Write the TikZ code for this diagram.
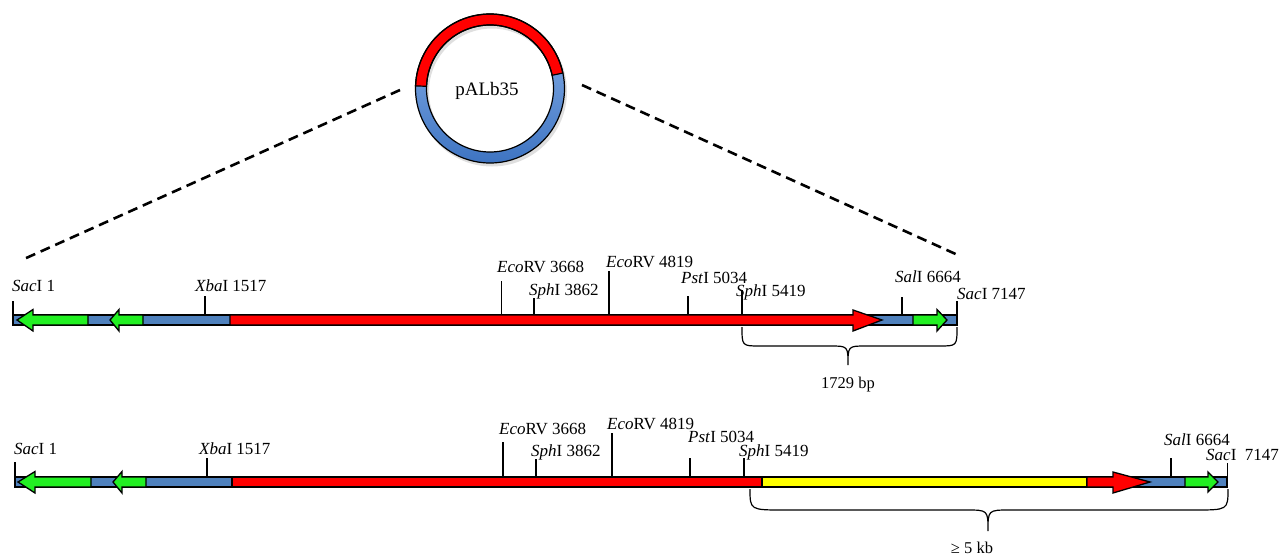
\documentclass[tikz,border=0pt]{standalone}
\usepackage{fontspec}
\setmainfont{Liberation Serif}
\usetikzlibrary{calc}
\begin{document}
\begin{tikzpicture}[x=1pt,y=-1pt,line join=miter]
\definecolor{barblue}{HTML}{4F81BD}
\definecolor{arrgreen}{HTML}{22F022}
\definecolor{arrred}{HTML}{FF0000}
\definecolor{insyellow}{HTML}{FFFF00}
\definecolor{ringlight}{HTML}{8DB4EA}
\definecolor{ringdark}{HTML}{3E74C2}
\tikzset{
  lbl/.style={anchor=base west,inner sep=0pt,font=\fontsize{17}{20}\selectfont},
  clbl/.style={anchor=base,inner sep=0pt,font=\fontsize{16.5}{20}\selectfont},
  seg/.style={draw=black,line width=1.3pt},
  sitetick/.style={draw=black,line width=1.2pt},
  bracepath/.style={draw=black,line width=1.2pt},
  zoomline/.style={draw=black,line width=2.6pt,dash pattern=on 10pt off 6pt},
}
\useasboundingbox (0,0) rectangle (1283,557);

% ---------- plasmid circle ----------
\coordinate (cc) at (490,88.5);
\coordinate (cs) at (492,91.5);
\fill[black!25,opacity=0.5,even odd rule] (cs) circle[radius=75] (cs) circle[radius=63];
\shade[top color=ringlight,bottom color=ringdark,even odd rule] (cc) circle[radius=74.5] (cc) circle[radius=63.5];
\filldraw[fill=arrred,draw=black,line width=1.2pt] ($(cc)+(182:74.5)$) arc[start angle=182,end angle=348,radius=74.5]
  -- ($(cc)+(348:63.5)$) arc[start angle=348,end angle=182,radius=63.5] -- cycle;
\draw[black,line width=1.2pt] (cc) circle[radius=74.5];
\draw[black,line width=1.2pt] (cc) circle[radius=63.5];
\node[anchor=base,inner sep=0pt,font=\fontsize{19}{22}\selectfont] (plas) at (487,95) {pALb35};

% ---------- zoom lines ----------
\coordinate (zl1) at (400,90);
\coordinate (zl2) at (24,259);
\coordinate (zr1) at (582,85);
\coordinate (zr2) at (960,256);
\draw[zoomline] (zl1) -- (zl2);
\draw[zoomline] (zr1) -- (zr2);

% ---------- top map ----------
\filldraw[seg,fill=barblue] (13,315) rectangle (957,325);
\filldraw[seg,fill=arrred] (230,315) -- (853,315) -- (853,310) -- (882,320) -- (853,331) -- (853,325) -- (230,325) -- cycle;
\filldraw[seg,fill=arrgreen] (17,320) -- (33,309.5) -- (33,315) -- (88,315) -- (88,325) -- (33,325) -- (33,331) -- cycle;
\filldraw[seg,fill=arrgreen] (110,320) -- (119,309.5) -- (119,315) -- (143,315) -- (143,325) -- (119,325) -- (119,331) -- cycle;
\filldraw[seg,fill=arrgreen] (913,315) -- (937,315) -- (937,309.5) -- (947,320) -- (937,331) -- (937,325) -- (913,325) -- cycle;

\draw[sitetick] (13,301) -- (13,315);
\draw[sitetick] (205,296) -- (205,315);
\draw[sitetick] (501.5,281) -- (501.5,315);
\draw[sitetick] (534,298) -- (534,315);
\draw[sitetick] (609,271) -- (609,315);
\draw[sitetick] (688,296) -- (688,315);
\draw[sitetick] (742,290) -- (742,315);
\draw[sitetick] (902,297) -- (902,315);
\draw[sitetick] (957,301) -- (957,315);

\node[lbl] (ta) at (12,291) {\textit{Sac}I 1};
\node[lbl] (tb) at (195,291) {\textit{Xba}I 1517};
\node[lbl] (tc) at (497,272) {\textit{Eco}RV 3668};
\node[lbl] (td) at (529,295) {\textit{Sph}I 3862};
\node[lbl] (te) at (606,267) {\textit{Eco}RV 4819};
\node[lbl] (tf) at (681,283) {\textit{Pst}I 5034};
\node[lbl] (tg) at (736,296) {\textit{Sph}I 5419};
\node[lbl] (th) at (895,282) {\textit{Sal}I 6664};
\node[lbl] (ti) at (957,299) {\textit{Sac}I 7147};

\draw[bracepath] (742,327) .. controls (742,346) .. (760,346) -- (830,346)
  .. controls (848,346) .. (848,365) .. controls (848,346) .. (866,346) -- (939,346)
  .. controls (957,346) .. (957,327);
\node[clbl] (tlen) at (848,388) {1729 bp};

% ---------- bottom map ----------
\filldraw[seg,fill=barblue] (15,477) rectangle (1227,487);
\filldraw[seg,fill=arrred] (232,477) rectangle (762,487);
\filldraw[seg,fill=insyellow] (762,477) rectangle (1087,487);
\filldraw[seg,fill=arrred] (1087,477) -- (1113,477) -- (1113,472) -- (1150,482) -- (1113,493) -- (1113,487) -- (1087,487) -- cycle;
\filldraw[seg,fill=arrgreen] (18,482) -- (35,471.5) -- (35,477) -- (91,477) -- (91,487) -- (35,487) -- (35,493) -- cycle;
\filldraw[seg,fill=arrgreen] (113,482) -- (122,471.5) -- (122,477) -- (146,477) -- (146,487) -- (122,487) -- (122,493) -- cycle;
\filldraw[seg,fill=arrgreen] (1185,477) -- (1208,477) -- (1208,472) -- (1218,482) -- (1208,492) -- (1208,487) -- (1185,487) -- cycle;

\draw[sitetick] (15,462) -- (15,477);
\draw[sitetick] (207,458) -- (207,477);
\draw[sitetick] (503,442) -- (503,477);
\draw[sitetick] (536,459) -- (536,477);
\draw[sitetick] (612,433) -- (612,477);
\draw[sitetick] (690,458) -- (690,477);
\draw[sitetick] (744,458) -- (744,477);
\draw[sitetick] (1171,458) -- (1171,477);
\draw[sitetick] (1227.5,463) -- (1227.5,477);

\node[lbl] (ba) at (14,454) {\textit{Sac}I 1};
\node[lbl] (bb) at (199,454) {\textit{Xba}I 1517};
\node[lbl] (bc) at (499,434) {\textit{Eco}RV 3668};
\node[lbl] (bd) at (531,456) {\textit{Sph}I 3862};
\node[lbl] (be) at (607,429) {\textit{Eco}RV 4819};
\node[lbl] (bf) at (688,442) {\textit{Pst}I 5034};
\node[lbl] (bg) at (739,456) {\textit{Sph}I 5419};
\node[lbl] (bh) at (1164,445) {\textit{Sal}I 6664};
\node[lbl] (bi) at (1206,460) {\textit{Sac}I\ \ 7147};

\draw[bracepath] (750,489) .. controls (750,510) .. (784,510) -- (966,510)
  .. controls (988,510) .. (988,531) .. controls (988,510) .. (1010,510) -- (1194,510)
  .. controls (1228,510) .. (1228,489);
\node[clbl] (blen) at (972,553) {≥ 5 kb};
\end{tikzpicture}
\end{document}
